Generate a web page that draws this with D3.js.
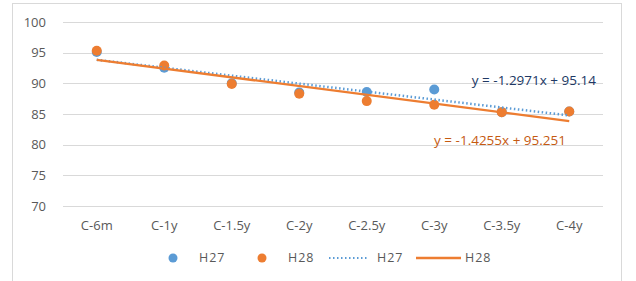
<!DOCTYPE html>
<html>
<head>
<meta charset="utf-8">
<script src="https://cdn.jsdelivr.net/npm/d3@7"></script>
<style>
  body { margin: 0; background: #fff; }
  text { font-family: "Open Sans", "Liberation Sans", sans-serif; }
</style>
</head>
<body>
<div id="chart"></div>
<script>
const categories = ['C-6m', 'C-1y', 'C-1.5y', 'C-2y', 'C-2.5y', 'C-3y', 'C-3.5y', 'C-4y'];
const h27 = [95.1, 92.55, 90.0, 88.5, 88.6, 89.0, 85.3, 85.4];
const h28 = [95.3, 92.9, 89.9, 88.3, 87.1, 86.5, 85.3, 85.4];
const yTicks = [70, 75, 80, 85, 90, 95, 100];
// trendline coefficients as printed on the chart
const trend27 = { slope: -1.2971, intercept: 95.14, label: 'y = -1.2971x + 95.14' };
const trend28 = { slope: -1.4255, intercept: 95.251, label: 'y = -1.4255x + 95.251' };

const W = 636, H = 281;
const BLUE = '#5B9BD5', ORANGE = '#ED7D31';

const svg = d3.select('#chart').append('svg')
  .attr('width', W).attr('height', H);

// outer chart border
svg.append('rect')
  .attr('x', 12.5).attr('y', 3.5)
  .attr('width', 609).attr('height', 290)
  .attr('fill', '#fff').attr('stroke', '#D9D9D9');

const x = d3.scaleBand().domain(categories).range([63, 603]);
const y = d3.scaleLinear().domain([70, 100]).range([206, 22]);
const cx = (i) => x(categories[i]) + x.bandwidth() / 2;

// gridlines
svg.append('g').selectAll('line')
  .data(yTicks).enter().append('line')
    .attr('x1', 63).attr('x2', 603)
    .attr('y1', (d) => Math.round(y(d)) + 0.5)
    .attr('y2', (d) => Math.round(y(d)) + 0.5)
    .attr('stroke', '#D9D9D9').attr('stroke-width', 1);

// y labels
svg.append('g').selectAll('text')
  .data(yTicks).enter().append('text')
    .attr('x', 46).attr('y', (d) => y(d))
    .attr('dy', '0.35em')
    .attr('text-anchor', 'end')
    .attr('font-size', 13).attr('fill', '#595959')
    .text((d) => d);

// x labels
svg.append('g').selectAll('text')
  .data(categories).enter().append('text')
    .attr('x', (d, i) => cx(i)).attr('y', 225)
    .attr('dy', '0.35em')
    .attr('text-anchor', 'middle')
    .attr('font-size', 13).attr('fill', '#595959')
    .text((d) => d);

// markers
function drawPoints(vals, color) {
  svg.append('g').selectAll('circle')
    .data(vals).enter().append('circle')
      .attr('cx', (d, i) => cx(i))
      .attr('cy', (d) => y(d))
      .attr('r', 5)
      .attr('fill', color);
}
drawPoints(h27, BLUE);
drawPoints(h28, ORANGE);

// linear trendlines (x = 1..n)
function drawTrend(t, color, dash) {
  const n = categories.length;
  const ends = [1, n].map((k) => [cx(k - 1), y(t.slope * k + t.intercept)]);
  svg.append('path')
    .attr('d', d3.line()(ends))
    .attr('fill', 'none')
    .attr('stroke', color)
    .attr('stroke-width', dash ? 2.5 : 2.25)
    .attr('stroke-dasharray', dash || null);
}
drawTrend(trend27, BLUE, '1.5,2.5');
drawTrend(trend28, ORANGE, null);

svg.append('text')
  .attr('x', 596).attr('y', 80).attr('dy', '0.35em')
  .attr('text-anchor', 'end').attr('font-size', 13.5).attr('fill', '#203864')
  .text(trend27.label);
svg.append('text')
  .attr('x', 566).attr('y', 140).attr('dy', '0.35em')
  .attr('text-anchor', 'end').attr('font-size', 13.5).attr('fill', '#C55A11')
  .text(trend28.label);

// legend
const leg = svg.append('g');
const ly = 258;
leg.append('circle').attr('cx', 173).attr('cy', ly).attr('r', 4.5).attr('fill', BLUE);
leg.append('text').attr('x', 199).attr('y', ly).attr('dy', '0.35em')
  .attr('font-size', 12.5).attr('fill', '#595959').attr('letter-spacing', 1).text('H27');
leg.append('circle').attr('cx', 262).attr('cy', ly).attr('r', 4.5).attr('fill', ORANGE);
leg.append('text').attr('x', 288).attr('y', ly).attr('dy', '0.35em')
  .attr('font-size', 12.5).attr('fill', '#595959').attr('letter-spacing', 1).text('H28');
leg.append('line').attr('x1', 329).attr('x2', 367).attr('y1', ly).attr('y2', ly)
  .attr('stroke', BLUE).attr('stroke-width', 2).attr('stroke-dasharray', '1.5,2.5');
leg.append('text').attr('x', 377).attr('y', ly).attr('dy', '0.35em')
  .attr('font-size', 12.5).attr('fill', '#595959').attr('letter-spacing', 1).text('H27');
leg.append('line').attr('x1', 416).attr('x2', 461).attr('y1', ly).attr('y2', ly)
  .attr('stroke', ORANGE).attr('stroke-width', 2.5);
leg.append('text').attr('x', 465).attr('y', ly).attr('dy', '0.35em')
  .attr('font-size', 12.5).attr('fill', '#595959').attr('letter-spacing', 1).text('H28');
</script>
</body>
</html>
